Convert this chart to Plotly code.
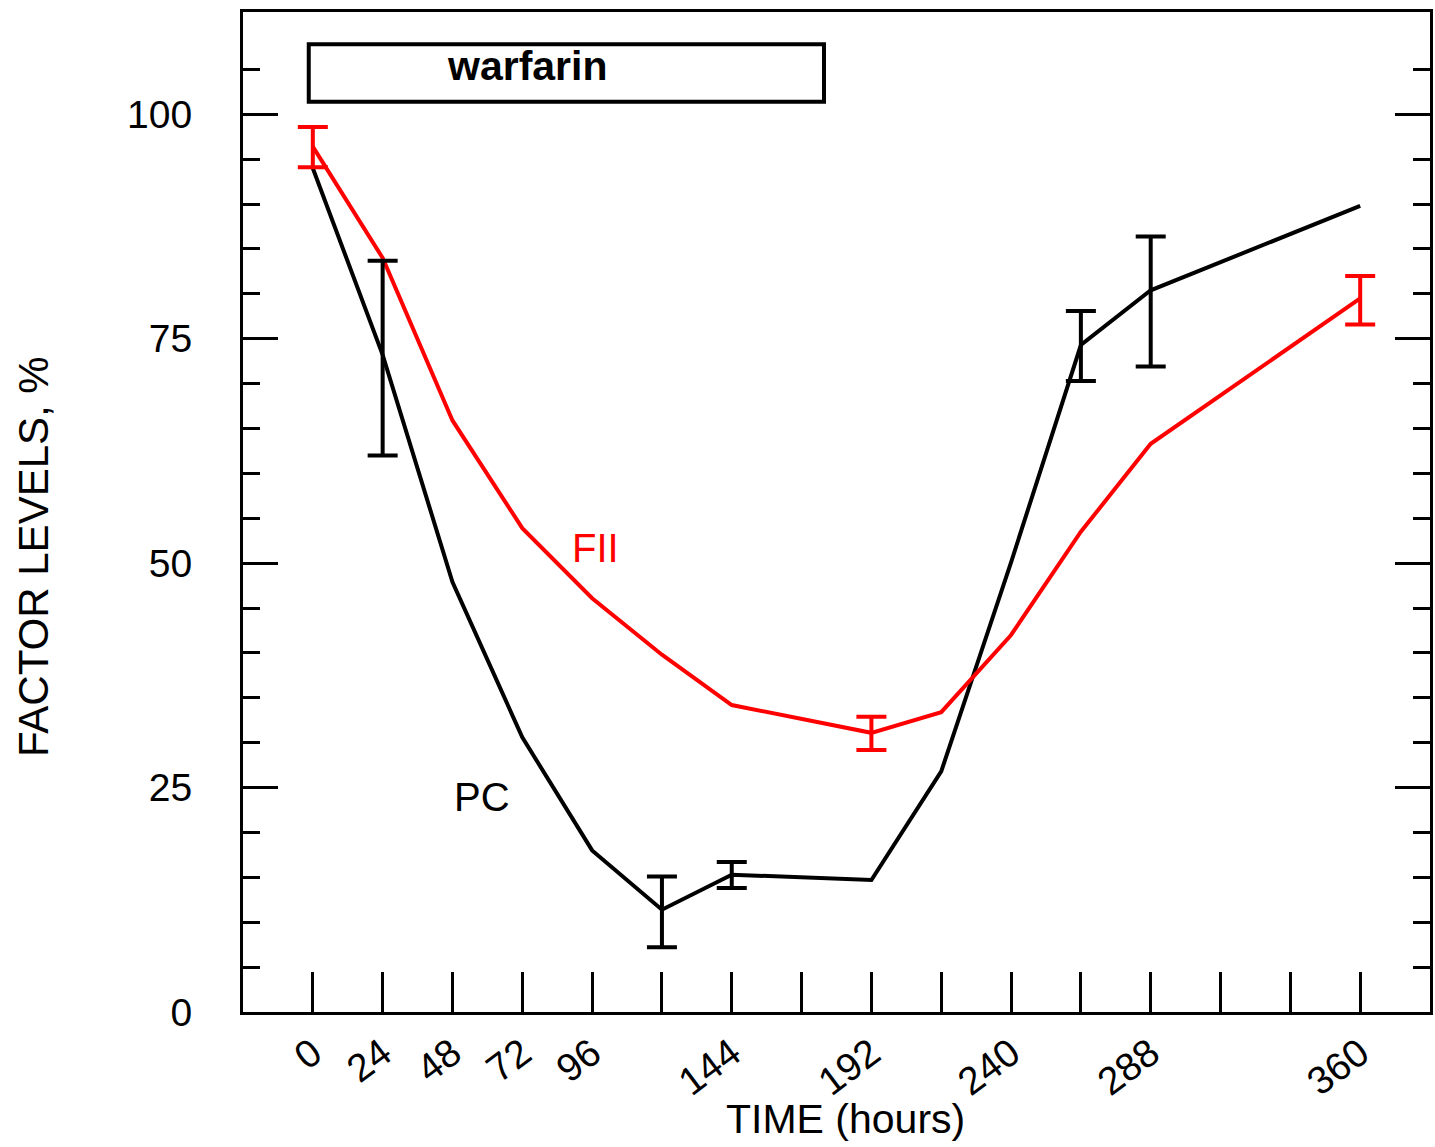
import plotly.graph_objects as go

# ---- data ----
hours = [0, 24, 48, 72, 96, 120, 144, 192, 216, 240, 264, 288, 360]
pc_levels = [94.0, 73.2, 47.9, 30.6, 18.0, 11.4, 15.3, 14.7, 26.8, 50.1, 74.3, 80.4, 89.8]
fii_levels = [96.4, 84.0, 65.9, 53.9, 46.1, 39.8, 34.2, 31.1, 33.4, 42.0, 53.5, 63.3, 79.5]

pc_err_hours = [24, 120, 144, 264, 288]
pc_err_low = [62.0, 7.2, 13.8, 70.3, 71.9]
pc_err_high = [83.7, 15.1, 16.7, 78.1, 86.4]

fii_err_hours = [0, 192, 360]
fii_err_low = [94.1, 29.2, 76.6]
fii_err_high = [98.6, 32.9, 82.0]

x_tickvals = list(range(0, 361, 24))
x_ticktext = ["0", "24", "48", "72", "96", "", "144", "", "192", "", "240", "", "288", "", "", "360"]
y_tickvals = [0, 25, 50, 75, 100]
y_minor_vals = [v for v in range(5, 106, 5) if v % 25 != 0]

warfarin_start, warfarin_end = -1.4, 175.7
warfarin_bottom, warfarin_top = 101.4, 107.8

FONT = "Liberation Sans, Arial, sans-serif"
RED = "#ff0000"

def mid(lo, hi):
    return [(a + b) / 2 for a, b in zip(lo, hi)]

def half(lo, hi):
    return [(b - a) / 2 for a, b in zip(lo, hi)]

fig = go.Figure()
fig.add_trace(go.Scatter(x=hours, y=pc_levels, mode="lines",
                         line=dict(color="black", width=4), showlegend=False))
fig.add_trace(go.Scatter(x=hours, y=fii_levels, mode="lines",
                         line=dict(color=RED, width=4), showlegend=False))
fig.add_trace(go.Scatter(x=pc_err_hours, y=mid(pc_err_low, pc_err_high), mode="markers",
                         marker=dict(size=1, color="rgba(0,0,0,0)"),
                         error_y=dict(type="data", array=half(pc_err_low, pc_err_high),
                                      color="black", thickness=4, width=15),
                         showlegend=False))
fig.add_trace(go.Scatter(x=fii_err_hours, y=mid(fii_err_low, fii_err_high), mode="markers",
                         marker=dict(size=1, color="rgba(0,0,0,0)"),
                         error_y=dict(type="data", array=half(fii_err_low, fii_err_high),
                                      color=RED, thickness=4, width=15),
                         showlegend=False))

fig.add_shape(type="rect", x0=warfarin_start, x1=warfarin_end, y0=warfarin_bottom, y1=warfarin_top,
              xref="x", yref="y", line=dict(color="black", width=4), fillcolor="white")
fig.add_annotation(x=73.7, y=105.4, text="<b>warfarin</b>", showarrow=False,
                   font=dict(family=FONT, size=41, color="black"))
fig.add_annotation(x=97, y=51.7, text="FII", showarrow=False,
                   font=dict(family=FONT, size=40, color=RED))
fig.add_annotation(x=58.2, y=23.9, text="PC", showarrow=False,
                   font=dict(family=FONT, size=40, color="black"))

fig.add_annotation(xref="paper", yref="paper", x=0.5076, y=-0.107, text="TIME (hours)",
                   showarrow=False, xanchor="center", yanchor="middle",
                   font=dict(family=FONT, size=41, color="black"))
fig.add_annotation(xref="paper", yref="paper", x=-0.1765, y=0.4555, text="FACTOR LEVELS, %",
                   showarrow=False, xanchor="center", yanchor="middle", textangle=-90,
                   font=dict(family=FONT, size=42, color="black"))

fig.update_xaxes(range=[-24, 384], showline=True, linecolor="black", linewidth=3, mirror=True,
                 ticks="inside", ticklen=40, tickwidth=3, tickcolor="black",
                 tickmode="array", tickvals=x_tickvals, ticktext=x_ticktext, tickangle=-37,
                 tickfont=dict(family=FONT, size=39, color="black"),
                 showgrid=False, zeroline=False)
fig.update_yaxes(range=[0, 111.4], showline=True, linecolor="black", linewidth=3, mirror="ticks",
                 ticks="inside", ticklen=35, tickwidth=3, tickcolor="black",
                 tickmode="array", tickvals=y_tickvals,
                 minor=dict(tickmode="array", tickvals=y_minor_vals, ticks="inside",
                            ticklen=17, tickwidth=3, tickcolor="black", showgrid=False),
                 tickfont=dict(family=FONT, size=39, color="black"), ticklabelstandoff=40,
                 showgrid=False, zeroline=False)

fig.update_layout(width=1435, height=1147, margin=dict(l=243, r=2, t=12, b=135),
                  plot_bgcolor="white", paper_bgcolor="white")

fig.write_html("out.html")
